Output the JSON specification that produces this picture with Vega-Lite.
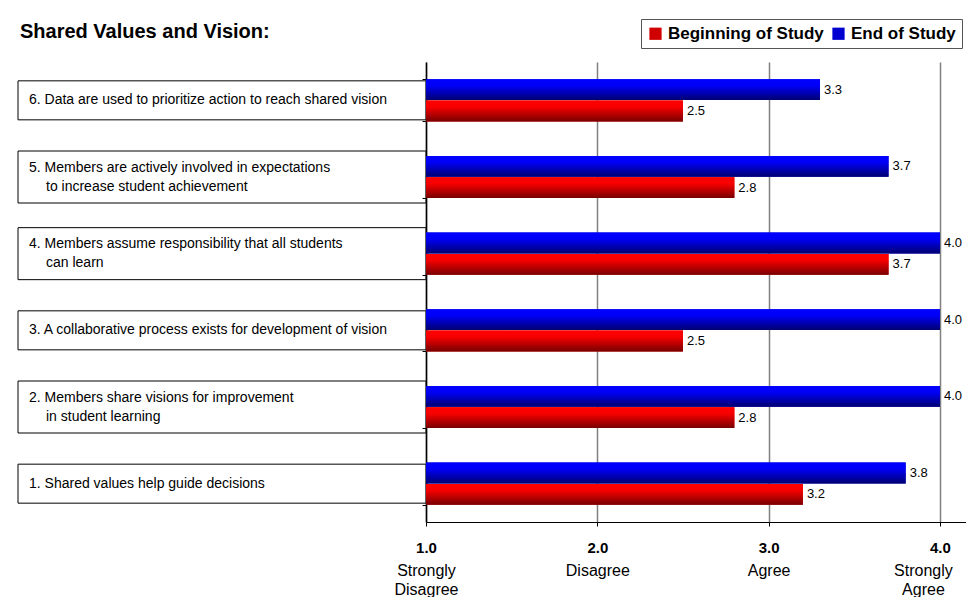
{
  "$schema": "https://vega.github.io/schema/vega-lite/v6.json",
  "padding": {"left": 17, "top": 18, "right": 0, "bottom": 0},
  "background": "white",
  "title": {"text": "Shared Values and Vision:", "anchor": "start", "frame": "group", "font": "Liberation Sans", "fontSize": 20, "fontWeight": "bold", "color": "#000", "dx": 2, "offset": -23},
  "config": {"font": "Liberation Sans", "view": {"stroke": null}},
  "datasets": {
    "labels": [
      {"item": "6", "line1": "6. Data are used to prioritize action to reach shared vision"},
      {"item": "5", "line1": "5. Members are actively involved in expectations", "line2": "to increase student achievement"},
      {"item": "4", "line1": "4. Members assume responsibility that all students", "line2": "can learn"},
      {"item": "3", "line1": "3. A collaborative process exists for development of vision"},
      {"item": "2", "line1": "2. Members share visions for improvement", "line2": "in student learning"},
      {"item": "1", "line1": "1. Shared values help guide decisions"}
    ],
    "scores": [
      {"item": "6", "series": "End of Study", "value": 3.3},
      {"item": "6", "series": "Beginning of Study", "value": 2.5},
      {"item": "5", "series": "End of Study", "value": 3.7},
      {"item": "5", "series": "Beginning of Study", "value": 2.8},
      {"item": "4", "series": "End of Study", "value": 4.0},
      {"item": "4", "series": "Beginning of Study", "value": 3.7},
      {"item": "3", "series": "End of Study", "value": 4.0},
      {"item": "3", "series": "Beginning of Study", "value": 2.5},
      {"item": "2", "series": "End of Study", "value": 4.0},
      {"item": "2", "series": "Beginning of Study", "value": 2.8},
      {"item": "1", "series": "End of Study", "value": 3.8},
      {"item": "1", "series": "Beginning of Study", "value": 3.2}
    ]
  },
  "spacing": 0,
  "bounds": "flush",
  "hconcat": [
    {
      "width": 408,
      "height": 460,
      "data": {"name": "labels"},
      "encoding": {
        "y": {"field": "item", "type": "nominal", "axis": null, "scale": {"domain": ["6", "5", "4", "3", "2", "1"], "paddingInner": 0.45, "paddingOuter": 0.225}},
        "x": {"datum": 0, "type": "quantitative", "scale": {"domain": [0, 1]}, "axis": null}
      },
      "layer": [
        {
          "transform": [{"filter": "!isValid(datum.line2)"}],
          "mark": {"type": "bar", "height": 39, "fill": "white", "stroke": "black", "strokeWidth": 1},
          "encoding": {"x2": {"datum": 1}}
        },
        {
          "transform": [{"filter": "isValid(datum.line2)"}],
          "mark": {"type": "bar", "height": 52, "fill": "white", "stroke": "black", "strokeWidth": 1},
          "encoding": {"x2": {"datum": 1}}
        },
        {
          "transform": [{"filter": "!isValid(datum.line2)"}],
          "mark": {"type": "text", "align": "left", "baseline": "middle", "dx": 11, "fontSize": 14, "font": "Liberation Sans", "color": "#000"},
          "encoding": {"text": {"field": "line1", "type": "nominal"}}
        },
        {
          "transform": [{"filter": "isValid(datum.line2)"}],
          "mark": {"type": "text", "align": "left", "baseline": "middle", "dx": 11, "dy": -9.5, "fontSize": 14, "font": "Liberation Sans", "color": "#000"},
          "encoding": {"text": {"field": "line1", "type": "nominal"}}
        },
        {
          "transform": [{"filter": "isValid(datum.line2)"}],
          "mark": {"type": "text", "align": "left", "baseline": "middle", "dx": 28, "dy": 9.5, "fontSize": 14, "font": "Liberation Sans", "color": "#000"},
          "encoding": {"text": {"field": "line2", "type": "nominal"}}
        }
      ]
    },
    {
      "width": 541,
      "height": 460,
      "data": {"name": "scores"},
      "encoding": {
        "y": {"field": "item", "type": "nominal", "scale": {"domain": ["6", "5", "4", "3", "2", "1"], "paddingInner": 0.45, "paddingOuter": 0.225}},
        "yOffset": {"field": "series", "type": "nominal", "scale": {"domain": ["End of Study", "Beginning of Study"], "paddingInner": 0.02}}
      },
      "layer": [
        {
          "mark": {"type": "bar"},
          "encoding": {
            "x": {"field": "value", "type": "quantitative", "scale": {"domain": [1, 4.158], "nice": false, "zero": false},
              "axis": {"values": [1, 2, 3, 4], "format": ".1f", "title": null, "orient": "bottom", "labelFont": "Liberation Sans", "labelFontSize": 15, "labelFontWeight": "bold", "labelColor": "#000", "labelPadding": 14, "labelFlush": false, "labelOverlap": false, "grid": true, "gridColor": "#808080", "gridWidth": 1.5, "domainColor": "#000", "tickColor": "#000", "tickSize": 4}},
            "x2": {"datum": 1},
            "y": {"field": "item", "type": "nominal", "axis": {"labels": false, "title": null, "ticks": true, "tickBand": "extent", "tickSize": 4, "tickColor": "#000", "domainColor": "#000", "domainWidth": 1.5}},
            "color": {"field": "series", "type": "nominal",
              "scale": {"domain": ["Beginning of Study", "End of Study"], "range": ["#d00000", "#0000d0"]},
              "legend": {"orient": "none", "legendX": 623, "legendY": -43, "direction": "horizontal", "title": null, "symbolType": "square", "symbolSize": 150, "symbolStrokeWidth": 0, "labelFont": "Liberation Sans", "labelFontSize": 17, "labelFontWeight": "bold", "labelColor": "#000", "strokeColor": "#555", "padding": 6, "columnPadding": 6, "labelOffset": 4, "fillColor": "white",
                "encode": {"symbols": {"update": {"fill": [
                  {"test": "datum.value == 'End of Study'", "value": {"gradient": "linear", "x1": 0, "y1": 0, "x2": 0, "y2": 1, "stops": [{"offset": 0, "color": "#0000ff"}, {"offset": 0.3, "color": "#0000f8"}, {"offset": 1, "color": "#000070"}]}},
                  {"value": {"gradient": "linear", "x1": 0, "y1": 0, "x2": 0, "y2": 1, "stops": [{"offset": 0, "color": "#ff0000"}, {"offset": 0.3, "color": "#f80000"}, {"offset": 1, "color": "#780000"}]}}
                ]}}}}}
          }
        },
        {
          "transform": [{"filter": "datum.series == 'Beginning of Study'"}],
          "mark": {"type": "bar", "fill": {"gradient": "linear", "x1": 0, "y1": 0, "x2": 0, "y2": 1, "stops": [{"offset": 0, "color": "#ff0000"}, {"offset": 0.3, "color": "#f80000"}, {"offset": 1, "color": "#780000"}]}},
          "encoding": {
            "x": {"field": "value", "type": "quantitative", "axis": null},
            "x2": {"datum": 1},
            "y": {"field": "item", "type": "nominal"}
          }
        },
        {
          "transform": [{"filter": "datum.series == 'End of Study'"}],
          "mark": {"type": "bar", "fill": {"gradient": "linear", "x1": 0, "y1": 0, "x2": 0, "y2": 1, "stops": [{"offset": 0, "color": "#0000ff"}, {"offset": 0.3, "color": "#0000f8"}, {"offset": 1, "color": "#000070"}]}},
          "encoding": {
            "x": {"field": "value", "type": "quantitative", "axis": null},
            "x2": {"datum": 1},
            "y": {"field": "item", "type": "nominal"}
          }
        },
        {
          "mark": {"type": "text", "align": "left", "baseline": "middle", "dx": 4, "fontSize": 13, "font": "Liberation Sans", "color": "#000"},
          "encoding": {
            "x": {"field": "value", "type": "quantitative",
              "axis": {"values": [1, 2, 3, 4], "orient": "bottom", "title": null, "domain": false, "ticks": false, "grid": false, "labelFont": "Liberation Sans", "labelFontSize": 16, "labelColor": "#000", "labelPadding": 40, "labelLineHeight": 19, "labelFlush": false, "labelOverlap": false, "labelBaseline": "top",
                "labelOffset": {"condition": {"test": "datum.value == 4", "value": -17}, "value": 0},
                "labelExpr": "datum.value == 1 ? ['Strongly', 'Disagree'] : datum.value == 2 ? 'Disagree' : datum.value == 3 ? 'Agree' : ['Strongly', 'Agree']"}},
            "text": {"field": "value", "type": "quantitative", "format": ".1f"}
          }
        }
      ],
      "resolve": {"axis": {"x": "independent"}}
    }
  ]
}
